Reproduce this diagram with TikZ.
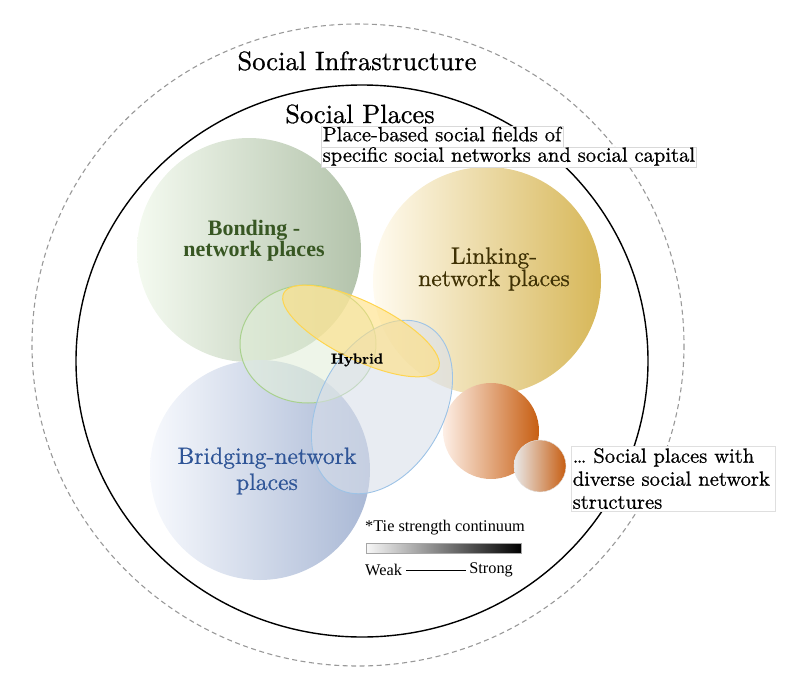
\documentclass[tikz,border=0pt]{standalone}
\usepackage{fontspec}
\setmainfont{lmroman10-regular.otf}[BoldFont=lmroman10-bold.otf,FakeBold=0.7]
\newfontfamily\timesfont{Liberation Serif}
\definecolor{bondL}{HTML}{F4FAF0}
\definecolor{bondR}{HTML}{B3C3AB}
\definecolor{linkL}{HTML}{FFFBF0}
\definecolor{linkR}{HTML}{D7B758}
\definecolor{bridL}{HTML}{F7F9FD}
\definecolor{bridR}{HTML}{A9B8D5}
\definecolor{oranL}{HTML}{FDEFE6}
\definecolor{oranR}{HTML}{C75E12}
\definecolor{smallL}{HTML}{E9E9E9}
\definecolor{bondtext}{HTML}{385723}
\definecolor{linktext}{HTML}{3F3104}
\definecolor{bridtext}{HTML}{2F5597}
\definecolor{hybgreen}{HTML}{E2EFDA}
\definecolor{hybgreenline}{HTML}{A9D18E}
\definecolor{hybyellow}{HTML}{FFDF7F}
\definecolor{hybyellowline}{HTML}{FFD54F}
\definecolor{hybblue}{HTML}{D9DFEA}
\definecolor{hybblueline}{HTML}{9DC3E6}
\begin{document}
\begin{tikzpicture}
  [x=1pt,y=-1pt,every node/.style={inner sep=0pt},
   fieldbox/.style={draw=gray!30,fill=white,inner xsep=1.5pt,inner ysep=1pt,
     text height=14pt,text depth=4.5pt,font=\fontsize{20.6}{23}\selectfont},
   notebox/.style={draw=gray!25,fill=white,inner xsep=1.5pt,inner ysep=2pt,
     align=left,text width=201pt,font=\fontsize{20.6}{23}\selectfont},
   legendtext/.style={font=\timesfont\fontsize{16.3}{18}\selectfont}]
  \useasboundingbox (0,0) rectangle (800,685);

  % rings
  \draw[gray!80,dash pattern=on 5pt off 3.5pt,line width=1.1pt]
    (358,345) ellipse [x radius=326,y radius=321];
  \draw[line width=1.4pt] (362,361) ellipse [x radius=286,y radius=276];

  % places
  \foreach \cx/\cy/\r/\lc/\rc in {249/250/112/bondL/bondR,487/281/114/linkL/linkR,
      260/470/110/bridL/bridR,491/431/48/oranL/oranR}
    \shade[left color=\lc,right color=\rc] (\cx,\cy) circle [radius=\r];
  \shade[left color=smallL,right color=oranR,draw=gray!20] (540,466) circle [radius=26];

  % hybrid
  \filldraw[fill=hybgreen,fill opacity=.6,draw=hybgreenline,line width=1pt]
    (308,344) ellipse [x radius=68,y radius=59];
  \filldraw[fill=hybblue,fill opacity=.6,draw=hybblueline,line width=.9pt,
    rotate around={61:(382,407)}] (382,407) ellipse [x radius=93,y radius=62];
  \filldraw[fill=hybyellow,fill opacity=.6,draw=hybyellowline,line width=1pt,
    rotate around={-26:(361,331)}] (361,331) ellipse [x radius=86,y radius=29];

  \node (infra) at (357,61) {\fontsize{26.6}{30}\selectfont Social Infrastructure};
  \node (places) at (360,114) {\fontsize{26.4}{30}\selectfont Social Places};
  \node[fieldbox,anchor=west] (field1) at (321,136.5) {Place-based social fields of};
  \node[fieldbox,anchor=west] (field2) at (321,157) {specific social networks and social capital};

  \node[align=center,text=bondtext,font=\timesfont\bfseries\fontsize{22}{21}\selectfont]
    (bonding) at (254,241) {Bonding -\\network places};
  \node[align=center,text=linktext,font=\fontsize{23.6}{21}\selectfont]
    (linking) at (494,269) {Linking-\\network places};
  \node[align=center,text=bridtext,font=\fontsize{23.6}{26}\selectfont]
    (bridging) at (267,471) {Bridging-network\\places};
  \node[font=\bfseries\fontsize{14.6}{17}\selectfont] (hybrid) at (357,360) {Hybrid};

  \node[notebox,anchor=north west] (diverse) at (571,446)
    {\dots{} Social places with\\diverse social network\\structures};

  % legend
  \node[legendtext,anchor=west] (tie) at (365,528) {*Tie strength continuum};
  \node[draw=gray!70,line width=.6pt,left color=gray!6,right color=black,
    minimum width=155pt,minimum height=10pt,anchor=north west] (bar) at (366,543) {};
  \node[legendtext,anchor=west] (weak) at (365,570) {Weak};
  \node[legendtext,anchor=east] (strong) at (513,570) {Strong};
  \draw[line width=.9pt] ([xshift=4pt]weak.east) -- ([xshift=-3pt]strong.west |- weak.east);
\end{tikzpicture}
\end{document}
